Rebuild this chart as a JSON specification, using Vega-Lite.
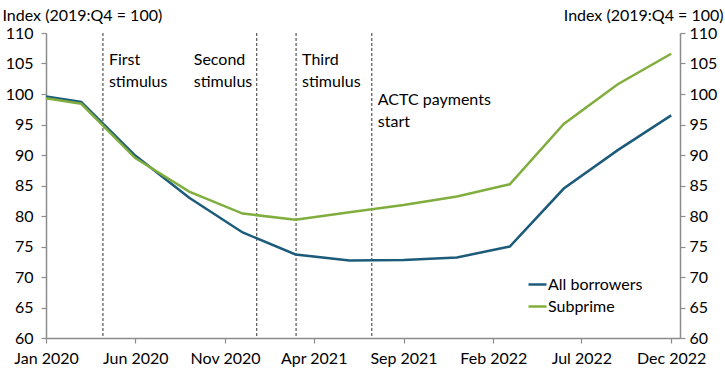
{
  "$schema": "https://vega.github.io/schema/vega-lite/v6.json",
  "width": 634,
  "height": 305,
  "autosize": {"type": "none"},
  "padding": {"left": 46, "top": 33, "right": 45, "bottom": 30},
  "datasets": {
    "series": [
      {"date": "2020-01-01", "series": "All borrowers", "value": 99.6},
      {"date": "2020-03-01", "series": "All borrowers", "value": 98.7},
      {"date": "2020-06-01", "series": "All borrowers", "value": 89.9},
      {"date": "2020-09-01", "series": "All borrowers", "value": 83.0},
      {"date": "2020-12-01", "series": "All borrowers", "value": 77.3},
      {"date": "2021-03-01", "series": "All borrowers", "value": 73.7},
      {"date": "2021-06-01", "series": "All borrowers", "value": 72.7},
      {"date": "2021-09-01", "series": "All borrowers", "value": 72.8},
      {"date": "2021-12-01", "series": "All borrowers", "value": 73.2},
      {"date": "2022-03-01", "series": "All borrowers", "value": 75.0},
      {"date": "2022-06-01", "series": "All borrowers", "value": 84.5},
      {"date": "2022-09-01", "series": "All borrowers", "value": 90.8},
      {"date": "2022-12-01", "series": "All borrowers", "value": 96.5},
      {"date": "2020-01-01", "series": "Subprime", "value": 99.3},
      {"date": "2020-03-01", "series": "Subprime", "value": 98.4},
      {"date": "2020-06-01", "series": "Subprime", "value": 89.5},
      {"date": "2020-09-01", "series": "Subprime", "value": 84.0},
      {"date": "2020-12-01", "series": "Subprime", "value": 80.4},
      {"date": "2021-03-01", "series": "Subprime", "value": 79.4},
      {"date": "2021-06-01", "series": "Subprime", "value": 80.6},
      {"date": "2021-09-01", "series": "Subprime", "value": 81.8},
      {"date": "2021-12-01", "series": "Subprime", "value": 83.2},
      {"date": "2022-03-01", "series": "Subprime", "value": 85.2},
      {"date": "2022-06-01", "series": "Subprime", "value": 95.1},
      {"date": "2022-09-01", "series": "Subprime", "value": 101.6},
      {"date": "2022-12-01", "series": "Subprime", "value": 106.6}
    ],
    "events": [
      {"date": "2020-04-07", "event": "First", "label": "First\nstimulus"},
      {"date": "2020-12-25", "event": "Second", "label": "Second\nstimulus"},
      {"date": "2021-03-02", "event": "Third", "label": "Third\nstimulus"},
      {"date": "2021-07-09", "event": "ACTC", "label": "ACTC payments\nstart"}
    ]
  },
  "encoding": {
    "x": {
      "field": "date",
      "type": "temporal",
      "scale": {
        "type": "utc",
        "domain": [
          {"year": 2020, "month": 1, "date": 1, "utc": true},
          {"year": 2022, "month": 12, "date": 16, "utc": true}
        ]
      },
      "axis": {
        "title": null,
        "format": "%b %Y",
        "values": [
          {"year": 2020, "month": 1, "date": 1, "utc": true},
          {"year": 2020, "month": 6, "date": 1, "utc": true},
          {"year": 2020, "month": 11, "date": 1, "utc": true},
          {"year": 2021, "month": 4, "date": 1, "utc": true},
          {"year": 2021, "month": 9, "date": 1, "utc": true},
          {"year": 2022, "month": 2, "date": 1, "utc": true},
          {"year": 2022, "month": 7, "date": 1, "utc": true},
          {"year": 2022, "month": 12, "date": 1, "utc": true}
        ],
        "grid": false,
        "tickSize": 5,
        "labelPadding": 7,
        "labelFlush": false,
        "labelOverlap": false
      }
    }
  },
  "layer": [
    {
      "data": {"name": "events"},
      "mark": {"type": "rule", "color": "#333333", "strokeDash": [3, 2], "strokeWidth": 1},
      "encoding": {}
    },
    {
      "data": {"name": "series"},
      "mark": {"type": "line", "strokeWidth": 2.5},
      "encoding": {
        "y": {
          "field": "value",
          "type": "quantitative",
          "scale": {"domain": [60, 110], "nice": false, "zero": false},
          "axis": {
            "orient": "left",
            "values": [60, 65, 70, 75, 80, 85, 90, 95, 100, 105, 110],
            "title": "Index (2019:Q4 = 100)",
            "titleAngle": 0,
            "titleAlign": "left",
            "titleBaseline": "alphabetic",
            "titleX": -44,
            "titleY": -13,
            "grid": false,
            "tickSize": 5,
            "labelPadding": 8
          }
        },
        "color": {
          "field": "series",
          "type": "nominal",
          "scale": {"domain": ["All borrowers", "Subprime"], "range": ["#1d5b7b", "#80ae3e"]},
          "legend": {
            "title": null,
            "orient": "none",
            "legendX": 481,
            "legendY": 241,
            "symbolType": "stroke",
            "symbolSize": 324,
            "symbolStrokeWidth": 2.5,
            "labelFontSize": 16,
            "labelOffset": 0,
            "rowPadding": 3,
            "padding": 0,
            "labelColor": "#000000",
            "labelFont": "Lato"
          }
        }
      }
    },
    {
      "data": {"name": "series"},
      "mark": {"type": "line", "opacity": 0},
      "encoding": {
        "detail": {"field": "series"},
        "y": {
          "field": "value",
          "type": "quantitative",
          "scale": {"domain": [60, 110], "nice": false, "zero": false},
          "axis": {
            "orient": "right",
            "values": [60, 65, 70, 75, 80, 85, 90, 95, 100, 105, 110],
            "title": "Index (2019:Q4 = 100)",
            "titleAngle": 0,
            "titleAlign": "right",
            "titleBaseline": "alphabetic",
            "titleX": 43,
            "titleY": -13,
            "grid": false,
            "tickSize": 5,
            "labelPadding": 4
          }
        }
      }
    },
    {
      "data": {"name": "events"},
      "transform": [{"filter": {"field": "event", "oneOf": ["First", "Third"]}}],
      "mark": {"type": "text", "align": "left", "baseline": "top", "dx": 6, "fontSize": 16, "lineHeight": 22, "lineBreak": "\n", "color": "#000000"},
      "encoding": {
        "y": {"datum": 106.9, "type": "quantitative", "axis": null},
        "text": {"field": "label"}
      }
    },
    {
      "data": {"name": "events"},
      "transform": [{"filter": {"field": "event", "oneOf": ["Second"]}}],
      "mark": {"type": "text", "align": "left", "baseline": "top", "dx": -63, "fontSize": 16, "lineHeight": 22, "lineBreak": "\n", "color": "#000000"},
      "encoding": {
        "y": {"datum": 106.9, "type": "quantitative", "axis": null},
        "text": {"field": "label"}
      }
    },
    {
      "data": {"name": "events"},
      "transform": [{"filter": {"field": "event", "oneOf": ["ACTC"]}}],
      "mark": {"type": "text", "align": "left", "baseline": "top", "dx": 6, "fontSize": 16, "lineHeight": 22, "lineBreak": "\n", "color": "#000000"},
      "encoding": {
        "y": {"datum": 100.3, "type": "quantitative", "axis": null},
        "text": {"field": "label"}
      }
    }
  ],
  "resolve": {"axis": {"y": "independent"}},
  "config": {
    "font": "Lato",
    "view": {"stroke": null},
    "text": {"font": "Lato"},
    "axis": {
      "labelFont": "Lato",
      "labelFontSize": 16,
      "labelColor": "#000000",
      "titleFont": "Lato",
      "titleFontSize": 16,
      "titleFontWeight": "normal",
      "titleColor": "#000000",
      "domainColor": "#8c8c8c",
      "domainWidth": 1.5,
      "tickColor": "#8c8c8c",
      "tickWidth": 1.2
    }
  }
}
